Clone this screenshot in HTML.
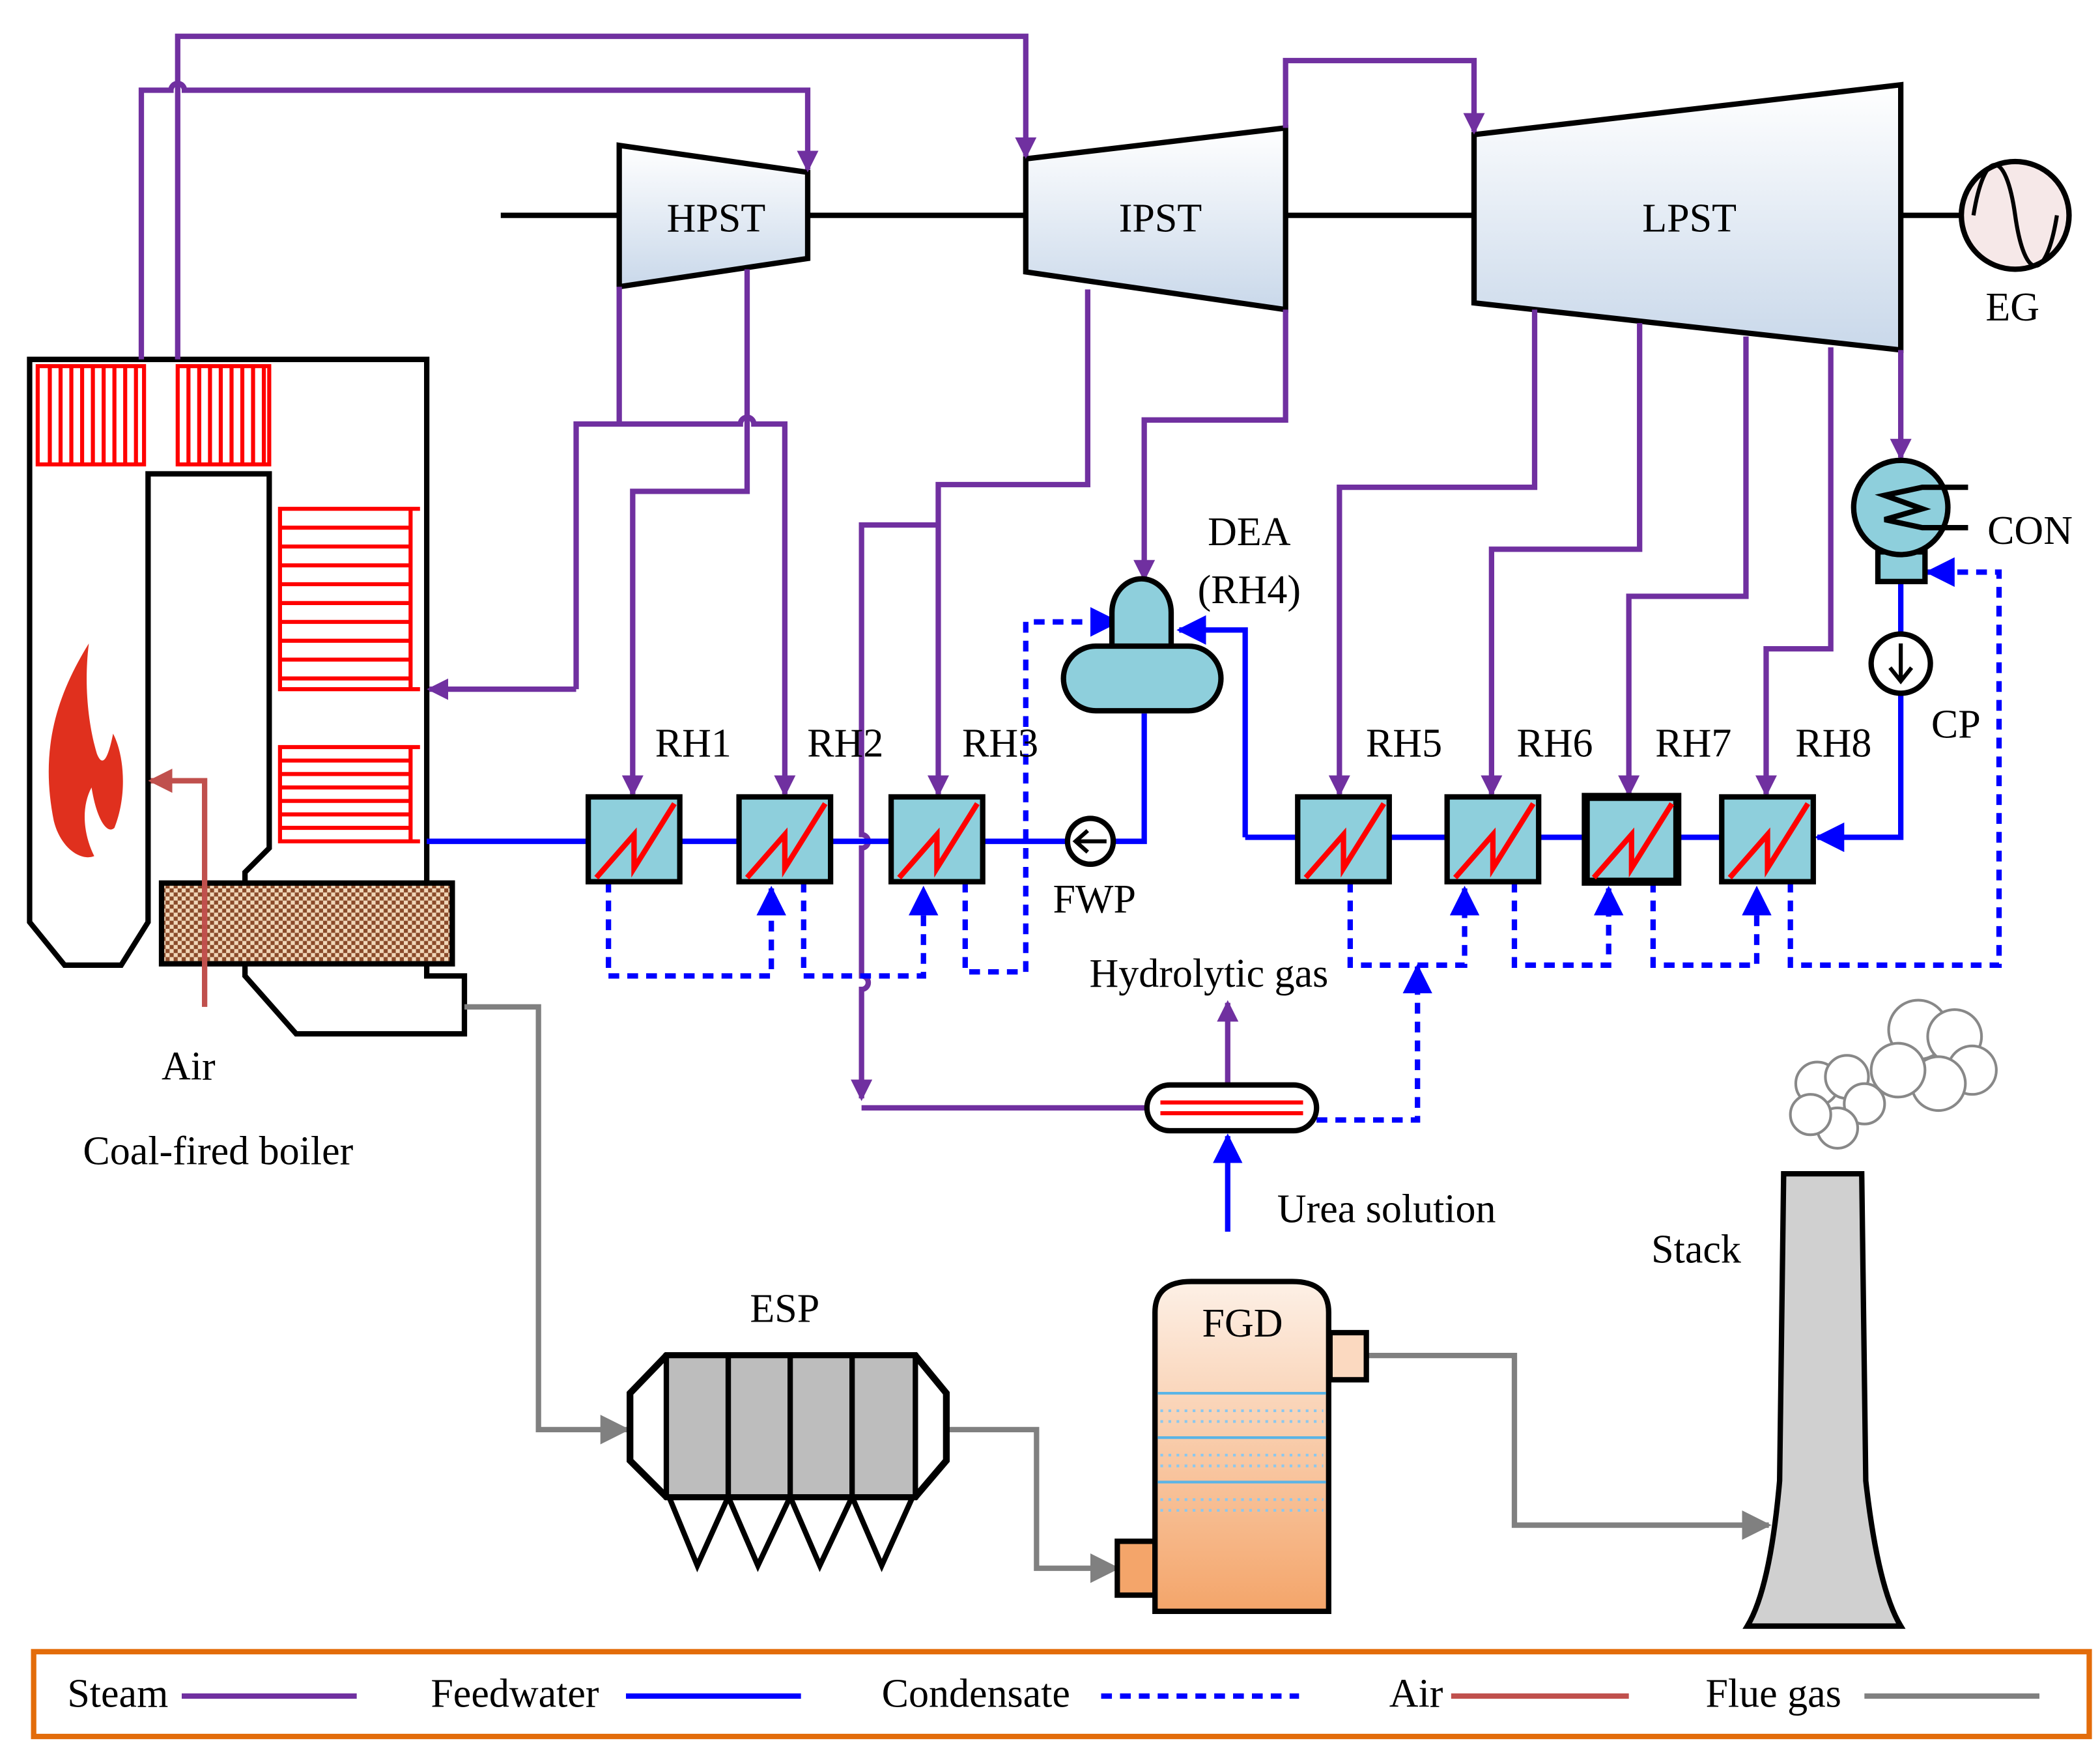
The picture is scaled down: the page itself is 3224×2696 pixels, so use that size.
<!DOCTYPE html>
<html><head><meta charset="utf-8"><style>
html,body{margin:0;padding:0;background:#fff;}
svg{display:block;}
text{font-family:"Liberation Serif",serif;font-size:30px;fill:#000;}
</style></head><body>
<svg width="3224" height="2696" viewBox="0 0 1560 1304.5" preserveAspectRatio="none" xmlns="http://www.w3.org/2000/svg">
<defs>
<linearGradient id="tg" x1="0" y1="0" x2="0" y2="1"><stop offset="0" stop-color="#ffffff"/><stop offset="1" stop-color="#c9d8ea"/></linearGradient>
<linearGradient id="fg" x1="0" y1="0" x2="0" y2="1"><stop offset="0" stop-color="#fdf0e6"/><stop offset="1" stop-color="#f4a56a"/></linearGradient>
<pattern id="chk" width="6" height="6" patternUnits="userSpaceOnUse"><rect width="6" height="6" fill="#f0d6b8"/><rect width="3" height="3" fill="#8a4a2a"/><rect x="3" y="3" width="3" height="3" fill="#8a4a2a"/></pattern>
<marker id="ap" markerWidth="16" markerHeight="16" refX="14" refY="8" orient="auto" markerUnits="userSpaceOnUse" viewBox="0 0 16 16"><path d="M0,0 L16,8 L0,16 Z" fill="#7030a0"/></marker>
<marker id="ab" markerWidth="22" markerHeight="22" refX="20" refY="11" orient="auto" markerUnits="userSpaceOnUse" viewBox="0 0 22 22"><path d="M0,0 L22,11 L0,22 Z" fill="#0000ff"/></marker>
<marker id="ag" markerWidth="22" markerHeight="22" refX="20" refY="11" orient="auto" markerUnits="userSpaceOnUse" viewBox="0 0 22 22"><path d="M0,0 L22,11 L0,22 Z" fill="#808080"/></marker>
<marker id="ar" markerWidth="18" markerHeight="18" refX="16" refY="9" orient="auto" markerUnits="userSpaceOnUse" viewBox="0 0 18 18"><path d="M0,0 L18,9 L0,18 Z" fill="#c0504d"/></marker>
</defs>
<style>
.s{fill:none;stroke:#7030a0;stroke-width:4;}
.f{fill:none;stroke:#0000ff;stroke-width:4;}
.c{fill:none;stroke:#0000ff;stroke-width:4;stroke-dasharray:8,6;}
.g{fill:none;stroke:#808080;stroke-width:4;}
.r{stroke:#ff0000;stroke-width:3;fill:none;}
</style>

<line x1="372" y1="160" x2="1458" y2="160" stroke="#000" stroke-width="4"/>
<polygon points="460,108 600,128 600,192 460,213" fill="url(#tg)" stroke="#000" stroke-width="4"/>
<text x="532" y="172" text-anchor="middle">HPST</text>
<polygon points="762,118 955,95 955,230 762,202" fill="url(#tg)" stroke="#000" stroke-width="4"/>
<text x="862" y="172" text-anchor="middle">IPST</text>
<polygon points="1095,100 1412,63 1412,260 1095,225" fill="url(#tg)" stroke="#000" stroke-width="4"/>
<text x="1255" y="172" text-anchor="middle">LPST</text>
<circle cx="1497" cy="160" r="40" fill="#f6e8e8" stroke="#000" stroke-width="4"/>
<path d="M1466,160 C1474,110 1490,110 1497,160 C1504,210 1520,210 1528,160" fill="none" stroke="#000" stroke-width="3"/>
<text x="1495" y="238" text-anchor="middle">EG</text>

<path d="M22,267 L317,267 L317,725 L345,725 L345,768 L220,768 L182,725 L182,648 L200,630 L200,352 L110,352 L110,685 L90,717 L48,717 L22,685 Z" fill="#fff" stroke="#000" stroke-width="4"/>
<rect x="28" y="272" width="79" height="73" fill="none" stroke="#f00" stroke-width="3"/>
<path class="r" d="M37,272V345M45,272V345M53,272V345M61,272V345M69,272V345M77,272V345M85,272V345M93,272V345M101,272V345"/>
<rect x="132" y="272" width="68" height="73" fill="none" stroke="#f00" stroke-width="3"/>
<path class="r" d="M140,272V345M148,272V345M156,272V345M164,272V345M172,272V345M180,272V345M188,272V345M196,272V345"/>
<path class="r" d="M312,378H208V512H312M208,392H305M208,406H305M208,420H305M208,434H305M208,448H305M208,462H305M208,476H305M208,490H305M208,504H305M305,378V512"/>
<path class="r" d="M312,555H208V625H312M208,565H305M208,575H305M208,585H305M208,595H305M208,605H305M208,615H305M305,555V625"/>
<rect x="120" y="656" width="216" height="60" fill="url(#chk)" stroke="#000" stroke-width="4"/>
<path d="M66,478 C40,520 30,560 40,610 C45,630 60,640 70,636 C62,620 60,600 68,585 C72,610 80,620 85,615 C95,590 92,560 84,545 C80,565 76,570 72,560 C66,540 62,510 66,478 Z" fill="#e0301e"/>
<polyline points="152,748 152,580 112,580" fill="none" stroke="#c0504d" stroke-width="4" marker-end="url(#ar)"/>
<text x="140" y="802" text-anchor="middle">Air</text>
<text x="162" y="865" text-anchor="middle">Coal-fired boiler</text>

<path class="s" d="M105,267 V67 H127 a5,5 0 0 1 10,0 H600 V126" marker-end="url(#ap)"/>
<path class="s" d="M132,267 V27 H762 V116" marker-end="url(#ap)"/>
<path class="s" d="M460,213 V315"/>
<path class="s" d="M428,512 V315 H550 a5,5 0 0 1 10,0 H583 V590" marker-end="url(#ap)"/>
<path class="s" d="M428,512 H319" marker-end="url(#ap)"/>
<path class="s" d="M555,200 V365 H470 V590" marker-end="url(#ap)"/>
<path class="s" d="M808,215 V360 H697 V590" marker-end="url(#ap)"/>
<path class="s" d="M697,390 H640 V620 a5,5 0 0 1 0,10 V725 a5,5 0 0 1 0,10 V816" marker-end="url(#ap)"/>
<path class="s" d="M640,823 H855"/>
<path class="s" d="M955,230 V312 H850 V430" marker-end="url(#ap)"/>
<path class="s" d="M955,95 V45 H1095 V98" marker-end="url(#ap)"/>
<path class="s" d="M1140,230 V362 H995 V590" marker-end="url(#ap)"/>
<path class="s" d="M1218,240 V408 H1108 V590" marker-end="url(#ap)"/>
<path class="s" d="M1297,250 V443 H1210 V590" marker-end="url(#ap)"/>
<path class="s" d="M1360,258 V482 H1312 V590" marker-end="url(#ap)"/>
<path class="s" d="M1412,260 V340" marker-end="url(#ap)"/>
<path class="s" d="M912,805 V745" marker-end="url(#ap)"/>

<path class="f" d="M317,625 H850 V530"/>
<path class="f" d="M925,622 V468 H876" marker-end="url(#ab)"/>
<path class="f" d="M925,622 H1347"/>
<path class="f" d="M1412,430 V622 H1350" marker-end="url(#ab)"/>
<path class="f" d="M912,915 V844" marker-end="url(#ab)"/>

<path class="c" d="M452,655 V725 H573 V660" marker-end="url(#ab)"/>
<path class="c" d="M597,655 V725 H686 V660" marker-end="url(#ab)"/>
<path class="c" d="M717,655 V722 H762 V462 H830" marker-end="url(#ab)"/>
<path class="c" d="M1003,655 V717 H1088 V660" marker-end="url(#ab)"/>
<path class="c" d="M1125,655 V717 H1195 V660" marker-end="url(#ab)"/>
<path class="c" d="M1228,655 V717 H1305 V660" marker-end="url(#ab)"/>
<path class="c" d="M1330,655 V717 H1485 V425 H1432" marker-end="url(#ab)"/>
<path class="c" d="M978,832 H1053 V718" marker-end="url(#ab)"/>

<g stroke="#000" stroke-width="4" fill="#8ecfdc">
<rect x="437" y="592" width="68" height="63"/>
<rect x="549" y="592" width="68" height="63"/>
<rect x="662" y="592" width="68" height="63"/>
<rect x="964" y="592" width="68" height="63"/>
<rect x="1075" y="592" width="68" height="63"/>
<rect x="1178" y="592" width="68" height="63" stroke-width="6"/>
<rect x="1279" y="592" width="68" height="63"/>
</g>
<g stroke="#ff0000" stroke-width="4" fill="none">
<path d="M443,652 L471,620 V645 L501,597"/>
<path d="M555,652 L583,620 V645 L613,597"/>
<path d="M668,652 L696,620 V645 L726,597"/>
<path d="M970,652 L998,620 V645 L1028,597"/>
<path d="M1081,652 L1109,620 V645 L1139,597"/>
<path d="M1184,652 L1212,620 V645 L1242,597"/>
<path d="M1285,652 L1313,620 V645 L1343,597"/>
</g>
<text x="515" y="562" text-anchor="middle">RH1</text>
<text x="628" y="562" text-anchor="middle">RH2</text>
<text x="743" y="562" text-anchor="middle">RH3</text>
<text x="1043" y="562" text-anchor="middle">RH5</text>
<text x="1155" y="562" text-anchor="middle">RH6</text>
<text x="1258" y="562" text-anchor="middle">RH7</text>
<text x="1362" y="562" text-anchor="middle">RH8</text>

<circle cx="810" cy="625" r="17" fill="#fff" stroke="#000" stroke-width="4"/>
<path d="M822,625 H800 M808,617 L799,625 L808,633" stroke="#000" stroke-width="3" fill="none"/>
<text x="813" y="678" text-anchor="middle">FWP</text>
<path d="M826,486 V455 a22,25 0 0 1 44,0 V486 Z" fill="#8ecfdc" stroke="#000" stroke-width="4"/>
<rect x="790" y="480" width="117" height="48" rx="24" fill="#8ecfdc" stroke="#000" stroke-width="4"/>
<text x="928" y="405" text-anchor="middle">DEA</text>
<text x="928" y="448" text-anchor="middle">(RH4)</text>
<rect x="1395" y="410" width="35" height="22" fill="#8ecfdc" stroke="#000" stroke-width="4"/>
<circle cx="1412" cy="377" r="35" fill="#8ecfdc" stroke="#000" stroke-width="4"/>
<path d="M1462,362 H1428 L1400,368 L1428,378 L1400,386 L1428,392 H1462" stroke="#000" stroke-width="4" fill="none"/>
<text x="1508" y="404" text-anchor="middle">CON</text>
<circle cx="1412" cy="493" r="22" fill="#fff" stroke="#000" stroke-width="4"/>
<path d="M1412,478 V505 M1404,496 L1412,506 L1420,496" stroke="#000" stroke-width="3" fill="none"/>
<text x="1453" y="548" text-anchor="middle">CP</text>

<rect x="852" y="806" width="126" height="34" rx="17" fill="#fff" stroke="#000" stroke-width="4"/>
<path d="M862,819 H968 M862,827 H968" stroke="#f00" stroke-width="3"/>
<text x="898" y="733" text-anchor="middle">Hydrolytic gas</text>
<text x="1030" y="908" text-anchor="middle">Urea solution</text>

<polyline class="g" points="345,748 400,748 400,1062 466,1062" marker-end="url(#ag)"/>
<polyline class="g" points="705,1062 770,1062 770,1165 830,1165" marker-end="url(#ag)"/>
<polyline class="g" points="1015,1007 1125,1007 1125,1133 1314,1133" marker-end="url(#ag)"/>

<polygon points="495,1007 680,1007 703,1035 703,1085 680,1112 495,1112 468,1085 468,1035" fill="#fff" stroke="#000" stroke-width="5"/>
<g fill="#bdbdbd" stroke="#000" stroke-width="4">
<rect x="495" y="1007" width="46" height="105"/><rect x="541" y="1007" width="46" height="105"/><rect x="587" y="1007" width="46" height="105"/><rect x="633" y="1007" width="47" height="105"/>
</g>
<path d="M497,1112 L518,1163 L541,1112 L563,1163 L587,1112 L609,1163 L633,1112 L655,1163 L678,1112" fill="none" stroke="#000" stroke-width="4"/>
<text x="583" y="982" text-anchor="middle">ESP</text>

<rect x="988" y="990" width="27" height="35" fill="#fbd9c0" stroke="#000" stroke-width="4"/>
<rect x="830" y="1145" width="28" height="40" fill="#f4a56a" stroke="#000" stroke-width="4"/>
<path d="M858,1197 V975 Q858,952 885,952 H960 Q987,952 987,975 V1197 Z" fill="url(#fg)" stroke="#000" stroke-width="4"/>
<g stroke="#5ab4e6" stroke-width="2" fill="none">
<line x1="860" y1="1035" x2="985" y2="1035"/><line x1="860" y1="1068" x2="985" y2="1068"/><line x1="860" y1="1101" x2="985" y2="1101"/>
</g>
<g stroke="#8cc8ee" stroke-width="2" stroke-dasharray="2,4">
<line x1="862" y1="1048" x2="983" y2="1048"/><line x1="862" y1="1056" x2="983" y2="1056"/>
<line x1="862" y1="1081" x2="983" y2="1081"/><line x1="862" y1="1089" x2="983" y2="1089"/>
<line x1="862" y1="1114" x2="983" y2="1114"/><line x1="862" y1="1122" x2="983" y2="1122"/>
</g>
<text x="923" y="993" text-anchor="middle">FGD</text>

<path d="M1325,872 H1383 L1386,1100 Q1395,1180 1412,1208 H1298 Q1315,1180 1322,1100 Z" fill="#d0d0d0" stroke="#000" stroke-width="4"/>
<text x="1260" y="938" text-anchor="middle">Stack</text>
<g fill="#fff" stroke="#888" stroke-width="2">
<circle cx="1425" cy="765" r="22"/><circle cx="1452" cy="770" r="20"/><circle cx="1465" cy="795" r="18"/><circle cx="1440" cy="805" r="20"/><circle cx="1410" cy="795" r="20"/>
<circle cx="1350" cy="805" r="16"/><circle cx="1372" cy="800" r="16"/><circle cx="1385" cy="820" r="15"/><circle cx="1365" cy="838" r="15"/><circle cx="1345" cy="828" r="15"/>
</g>

<rect x="25" y="1227" width="1527" height="63" fill="#fff" stroke="#e36c0a" stroke-width="4"/>
<text x="50" y="1268">Steam</text>
<line x1="135" y1="1260" x2="265" y2="1260" stroke="#7030a0" stroke-width="4"/>
<text x="320" y="1268">Feedwater</text>
<line x1="465" y1="1260" x2="595" y2="1260" stroke="#0000ff" stroke-width="4"/>
<text x="655" y="1268">Condensate</text>
<line x1="818" y1="1260" x2="965" y2="1260" stroke="#0000ff" stroke-width="4" stroke-dasharray="8,6"/>
<text x="1032" y="1268">Air</text>
<line x1="1078" y1="1260" x2="1210" y2="1260" stroke="#c0504d" stroke-width="4"/>
<text x="1267" y="1268">Flue gas</text>
<line x1="1385" y1="1260" x2="1515" y2="1260" stroke="#808080" stroke-width="4"/>
</svg>
</body></html>
